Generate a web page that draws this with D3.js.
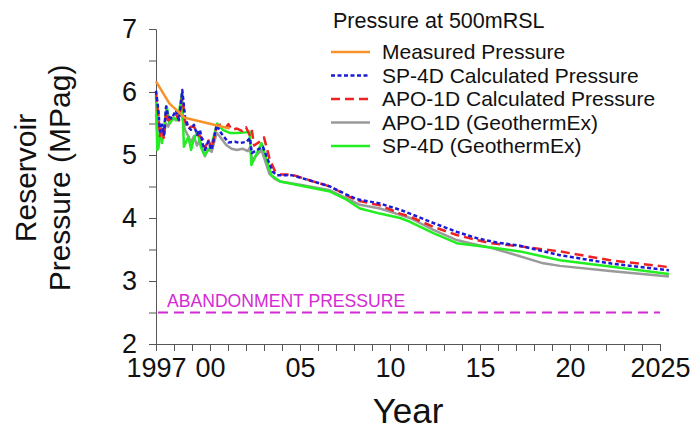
<!DOCTYPE html>
<html>
<head>
<meta charset="utf-8">
<script src="https://cdn.jsdelivr.net/npm/d3@7.9.0/dist/d3.min.js"></script>
<style>
  body { margin: 0; background: #fff; }
  svg { display: block; font-family: "Liberation Sans", Arial, sans-serif; }
</style>
</head>
<body>
<svg id="chart" width="690" height="429"></svg>
<script>
// values: [year, MPag]
const measured = [[1997.0, 6.17], [1997.74, 5.82], [1998.6, 5.59], [2001.1, 5.42]];

const sp4dCalc = [
  [1997.0, 6.02], [1997.13, 5.71], [1997.22, 5.37], [1997.33, 5.48], [1997.44, 5.32],
  [1997.56, 5.77], [1997.68, 5.61], [1997.87, 5.58], [1998.11, 5.71], [1998.28, 5.56],
  [1998.46, 6.03], [1998.61, 5.61], [1998.79, 5.45], [1998.94, 5.40], [1999.11, 5.48],
  [1999.28, 5.32], [1999.44, 5.40], [1999.61, 5.16], [1999.72, 5.08], [1999.89, 5.21],
  [2000.09, 5.08], [2000.37, 5.48], [2000.56, 5.37], [2001.02, 5.20], [2001.39, 5.21],
  [2001.67, 5.19], [2002.04, 5.21], [2002.22, 5.27], [2002.32, 5.03], [2002.61, 5.08],
  [2002.94, 5.13], [2003.22, 4.92], [2003.5, 4.73], [2003.72, 4.68], [2004.54, 4.68],
  [2005.74, 4.58], [2006.67, 4.50], [2007.59, 4.37], [2008.15, 4.30], [2009.44, 4.23],
  [2010.56, 4.13], [2011.11, 4.07], [2012.41, 3.92], [2013.71, 3.78], [2014.82, 3.68],
  [2015.93, 3.61], [2017.22, 3.56], [2019.44, 3.41], [2022.22, 3.28], [2025.5, 3.17]
];

const apo1dCalc = [
  [1997.0, 5.98], [1997.13, 5.65], [1997.22, 5.30], [1997.33, 5.45], [1997.44, 5.25],
  [1997.56, 5.70], [1997.68, 5.55], [1997.87, 5.60], [1998.11, 5.65], [1998.28, 5.55],
  [1998.46, 5.95], [1998.61, 5.55], [1998.79, 5.40], [1998.94, 5.45], [1999.11, 5.45],
  [1999.28, 5.35], [1999.44, 5.30], [1999.61, 5.25], [1999.72, 5.10], [1999.89, 5.25],
  [2000.09, 5.10], [2000.37, 5.45], [2000.56, 5.48], [2000.9, 5.44], [2001.02, 5.49],
  [2001.2, 5.40], [2001.5, 5.42], [2001.8, 5.38], [2002.0, 5.44], [2002.2, 5.32],
  [2002.32, 5.40], [2002.45, 5.15], [2002.7, 5.20], [2003.0, 5.28], [2003.3, 4.95],
  [2003.6, 4.75], [2003.89, 4.69], [2004.54, 4.69], [2005.74, 4.58], [2006.67, 4.50],
  [2007.59, 4.36], [2008.15, 4.28], [2009.44, 4.20], [2010.56, 4.07], [2011.11, 4.02],
  [2012.41, 3.86], [2013.71, 3.73], [2014.82, 3.65], [2015.6, 3.60], [2017.22, 3.55],
  [2019.44, 3.47], [2022.22, 3.33], [2025.5, 3.22]
];

const apo1dGeo = [
  [1997.0, 5.65], [1997.13, 5.10], [1997.22, 5.30], [1997.33, 5.40], [1997.44, 5.35],
  [1997.56, 5.50], [1997.68, 5.45], [1997.87, 5.60], [1998.11, 5.55], [1998.28, 5.65],
  [1998.46, 5.60], [1998.61, 5.40], [1998.79, 5.30], [1998.94, 5.20], [1999.11, 5.30],
  [1999.28, 5.15], [1999.44, 5.25], [1999.61, 5.05], [1999.72, 4.98], [1999.89, 5.10],
  [2000.09, 5.05], [2000.37, 5.35], [2000.56, 5.29], [2000.9, 5.16], [2001.2, 5.10],
  [2001.5, 5.08], [2001.8, 5.10], [2002.1, 5.06], [2002.22, 5.12], [2002.35, 4.92],
  [2002.86, 5.08], [2003.3, 4.70], [2003.6, 4.62], [2003.89, 4.58], [2005.0, 4.53],
  [2006.67, 4.44], [2007.59, 4.31], [2008.33, 4.21], [2009.44, 4.15], [2010.56, 4.05],
  [2011.11, 4.00], [2012.41, 3.81], [2013.71, 3.65], [2014.44, 3.60], [2015.56, 3.53],
  [2016.67, 3.44], [2018.52, 3.28], [2019.44, 3.24], [2022.22, 3.16], [2025.5, 3.07]
];

const sp4dGeo = [
  [1997.0, 5.95], [1997.07, 5.08], [1997.22, 5.37], [1997.33, 5.19], [1997.6, 5.77],
  [1997.75, 5.50], [1998.0, 5.59], [1998.2, 5.55], [1998.45, 5.98], [1998.55, 5.13],
  [1998.8, 5.29], [1998.95, 5.08], [1999.1, 5.25], [1999.3, 5.37], [1999.5, 5.12],
  [1999.7, 5.00], [2000.05, 5.13], [2000.4, 5.50], [2000.7, 5.40], [2001.1, 5.35],
  [2001.5, 5.35], [2002.0, 5.36], [2002.2, 5.37], [2002.3, 4.84], [2002.86, 5.19],
  [2003.41, 4.68], [2003.89, 4.58], [2006.67, 4.42], [2007.59, 4.29], [2008.33, 4.15],
  [2009.44, 4.07], [2010.56, 4.00], [2011.11, 3.94], [2012.41, 3.76], [2013.71, 3.60],
  [2014.82, 3.56], [2015.93, 3.52], [2017.22, 3.47], [2019.44, 3.33], [2022.22, 3.23],
  [2025.5, 3.11]
];

const abandonment = 2.5;
const abandonmentLabel = 'ABANDONMENT PRESSURE';

const xTickYears = [1997, 2000, 2005, 2010, 2015, 2020, 2025];
const xTickLabels = ['1997', '00', '05', '10', '15', '20', '2025'];
const yTickValues = [2, 3, 4, 5, 6, 7];

const legendTitle = 'Pressure at 500mRSL';
const legendNames = [
  'Measured Pressure',
  'SP-4D Calculated Pressure',
  'APO-1D Calculated Pressure',
  'APO-1D (GeothermEx)',
  'SP-4D (GeothermEx)'
];

// series styles, in legend order
const seriesList = [
  { data: measured, color: '#f7922a', dash: null },
  { data: sp4dCalc, color: '#1a1ad8', dash: '4,2.5' },
  { data: apo1dCalc, color: '#ee2222', dash: '9,5' },
  { data: apo1dGeo, color: '#9a9a9a', dash: null },
  { data: sp4dGeo, color: '#22ee22', dash: null }
];
const drawOrder = [3, 4, 2, 1, 0];

const svg = d3.select('#chart');
const axisColor = '#555';

const x = d3.scaleLinear().domain([1997, 2025]).range([156, 660]);
const y = d3.scaleLinear().domain([2, 7]).range([344, 29]);

// y axis, minor ticks every 0.5
const yAxis = d3.axisLeft(y)
  .tickValues(d3.range(2, 7.01, 0.5))
  .tickSize(7)
  .tickFormat(d => yTickValues.includes(d) ? d : '');
const gy = svg.append('g').attr('transform', `translate(${x(1997)},0)`).call(yAxis);
gy.select('.domain').attr('stroke', axisColor);
gy.selectAll('.tick line').attr('stroke', axisColor);
gy.selectAll('.tick text')
  .attr('font-size', 27)
  .attr('fill', '#111')
  .attr('x', -19)
  .attr('dy', '0.33em');

// x axis, a tick every year
const xAxis = d3.axisBottom(x)
  .tickValues(d3.range(1997, 2026))
  .tickSize(7)
  .tickFormat(d => {
    const i = xTickYears.indexOf(d);
    return i >= 0 ? xTickLabels[i] : '';
  });
const gx = svg.append('g').attr('transform', `translate(0,${y(2)})`).call(xAxis);
gx.select('.domain').attr('stroke', axisColor);
gx.selectAll('.tick line').attr('stroke', axisColor);
gx.selectAll('.tick text')
  .attr('font-size', 27)
  .attr('fill', '#111')
  .attr('y', 13)
  .attr('dy', '0.75em');

// abandonment line
svg.append('line')
  .attr('x1', x(1997) + 2).attr('x2', x(2025))
  .attr('y1', y(abandonment)).attr('y2', y(abandonment))
  .attr('stroke', '#d42ad4')
  .attr('stroke-width', 2.2)
  .attr('stroke-dasharray', '10,6');
svg.append('text')
  .attr('x', x(1997) + 11)
  .attr('y', y(abandonment) - 6)
  .attr('font-size', 17.6)
  .attr('fill', '#d42ad4')
  .text(abandonmentLabel);

// series lines
const line = d3.line().x(d => x(d[0])).y(d => y(d[1]));
drawOrder.forEach(i => {
  const s = seriesList[i];
  svg.append('path')
    .attr('d', line(s.data))
    .attr('fill', 'none')
    .attr('stroke', s.color)
    .attr('stroke-width', 2.5)
    .attr('stroke-linejoin', 'round')
    .attr('stroke-dasharray', s.dash);
});

// legend
const legend = svg.append('g');
legend.append('text')
  .attr('x', 333).attr('y', 28)
  .attr('font-size', 21.5)
  .attr('fill', '#111')
  .text(legendTitle);
legendNames.forEach((name, i) => {
  const ly = 52 + i * 23.5;
  legend.append('line')
    .attr('x1', 331).attr('x2', 370)
    .attr('y1', ly).attr('y2', ly)
    .attr('stroke', seriesList[i].color)
    .attr('stroke-width', 2.5)
    .attr('stroke-dasharray', seriesList[i].dash);
  legend.append('text')
    .attr('x', 382).attr('y', ly)
    .attr('dy', '0.35em')
    .attr('font-size', 21)
    .attr('fill', '#111')
    .text(name);
});

// axis titles
const yTitle = svg.append('text')
  .attr('transform', 'translate(36,178) rotate(-90)')
  .attr('text-anchor', 'middle')
  .attr('font-size', 30)
  .attr('fill', '#111');
yTitle.append('tspan').attr('x', 0).attr('y', 0).text('Reservoir');
yTitle.append('tspan').attr('x', 0).attr('y', 34).text('Pressure (MPag)');

svg.append('text')
  .attr('x', 408).attr('y', 423)
  .attr('text-anchor', 'middle')
  .attr('font-size', 35)
  .attr('fill', '#111')
  .text('Year');
</script>
</body>
</html>
